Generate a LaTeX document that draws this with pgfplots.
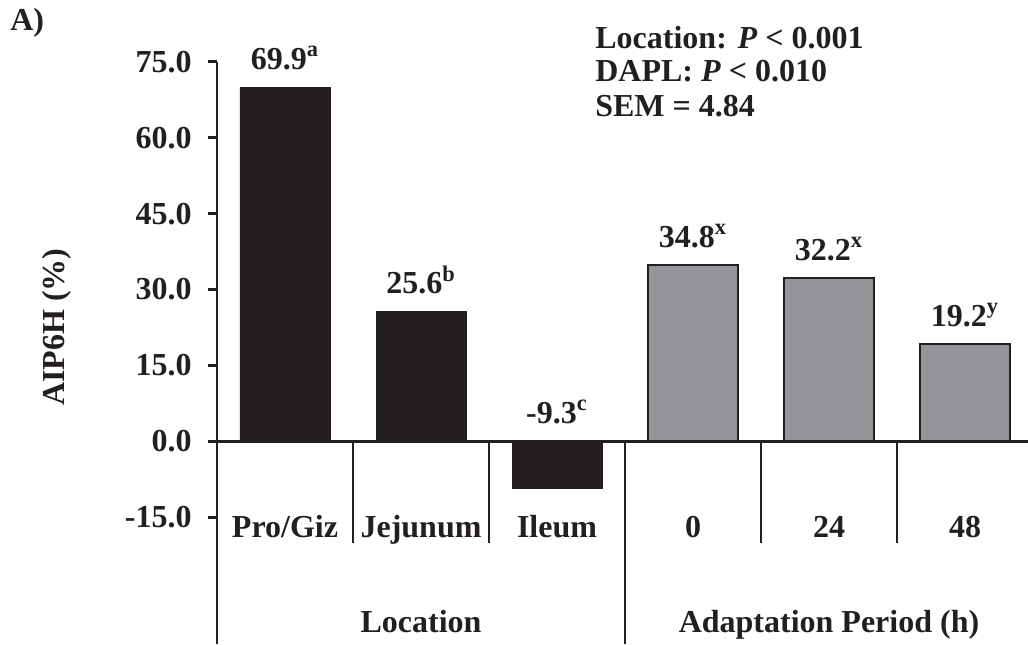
\documentclass[border=0pt]{standalone}
\usepackage{pgfplots}
\pgfplotsset{compat=1.18}
\usepackage{fontspec}
\setmainfont{Liberation Serif}
\definecolor{barblack}{HTML}{231F20}
\definecolor{bargray}{HTML}{939598}
\newcommand{\ff}{\fontsize{16}{19}\selectfont\bfseries}

\begin{document}
\begin{tikzpicture}
\path[use as bounding box] (-108.5pt,0pt) rectangle (405.5pt,322pt);
\begin{axis}[
  scale only axis, width=405.5pt, height=291.15pt,
  xmin=-0.5, xmax=5.463, ymin=-40, ymax=75,
  clip=false,
  axis x line=middle, axis y line=left,
  axis line style={-, line width=1.4pt, color=barblack},
  ytick={-15,0,15,30,45,60,75},
  ytick align=outside, major tick length=4.5pt,
  ytick style={line width=1.4pt, color=barblack},
  /pgf/number format/assume math mode=true,
  /pgf/number format/fixed, /pgf/number format/fixed zerofill,
  /pgf/number format/precision=1,
  yticklabel style={font=\ff, text=barblack, xshift=-4.7pt},
  xtick={0,1,2,3,4,5},
  xticklabels={Pro/Giz,Jejunum,Ileum,0,24,48},
  xtick style={draw=none},
  xticklabel style={font=\ff, text=barblack, anchor=base, yshift=-45.8pt},
  nodes near coords,
  point meta=explicit symbolic,
  every node near coord/.append style={font=\ff, text=barblack, anchor=base, yshift=9pt},
]
\addplot[ybar, bar shift=0pt, bar width=45pt, fill=barblack, draw=barblack]
  coordinates {(0,69.9)[69.9\textsuperscript{a}] (1,25.6)[25.6\textsuperscript{b}] (2,-9.3)[]};
\addplot[ybar, bar shift=0pt, bar width=45pt, fill=bargray, draw=barblack, line width=1pt]
  coordinates {(3,34.8)[34.8\textsuperscript{x}] (4,32.2)[32.2\textsuperscript{x}] (5,19.2)[19.2\textsuperscript{y}]};
\addplot[draw=none, mark=none]
  coordinates {(2,0)[-9.3\textsuperscript{c}]};
% category separators
\draw[line width=1.4pt, barblack] (axis cs:0.5,0) -- (axis cs:0.5,-20);
\draw[line width=1.4pt, barblack] (axis cs:1.5,0) -- (axis cs:1.5,-20);
\draw[line width=1.4pt, barblack] (axis cs:3.5,0) -- (axis cs:3.5,-20);
\draw[line width=1.4pt, barblack] (axis cs:4.5,0) -- (axis cs:4.5,-20);
\draw[line width=1.4pt, barblack] (axis cs:2.5,0) -- (axis cs:2.5,-40);
% group labels
\node[font=\ff, text=barblack, anchor=base] at (axis cs:1,-37.8) {Location};
\node[font=\ff, text=barblack, anchor=base] at (axis cs:4,-37.8) {Adaptation Period (h)};
% y label
\node[font=\ff, text=barblack, rotate=90, anchor=center] at ([xshift=-80pt]axis cs:-0.5,22.6) {AIP6H (\%)};
% stats
\node[font=\ff, text=barblack, anchor=base west, inner sep=0pt] at (axis cs:2.279,77.65) {Location: \textit{P} < 0.001};
\node[font=\ff, text=barblack, anchor=base west, inner sep=0pt] at (axis cs:2.279,71.05) {DAPL: \textit{P} < 0.010};
\node[font=\ff, text=barblack, anchor=base west, inner sep=0pt] at (axis cs:2.279,64.14) {SEM = 4.84};
\node[font=\ff, text=barblack, anchor=base west, inner sep=0pt] at (axis cs:-2.022,81.26) {A)};
\end{axis}
\end{tikzpicture}
\end{document}
